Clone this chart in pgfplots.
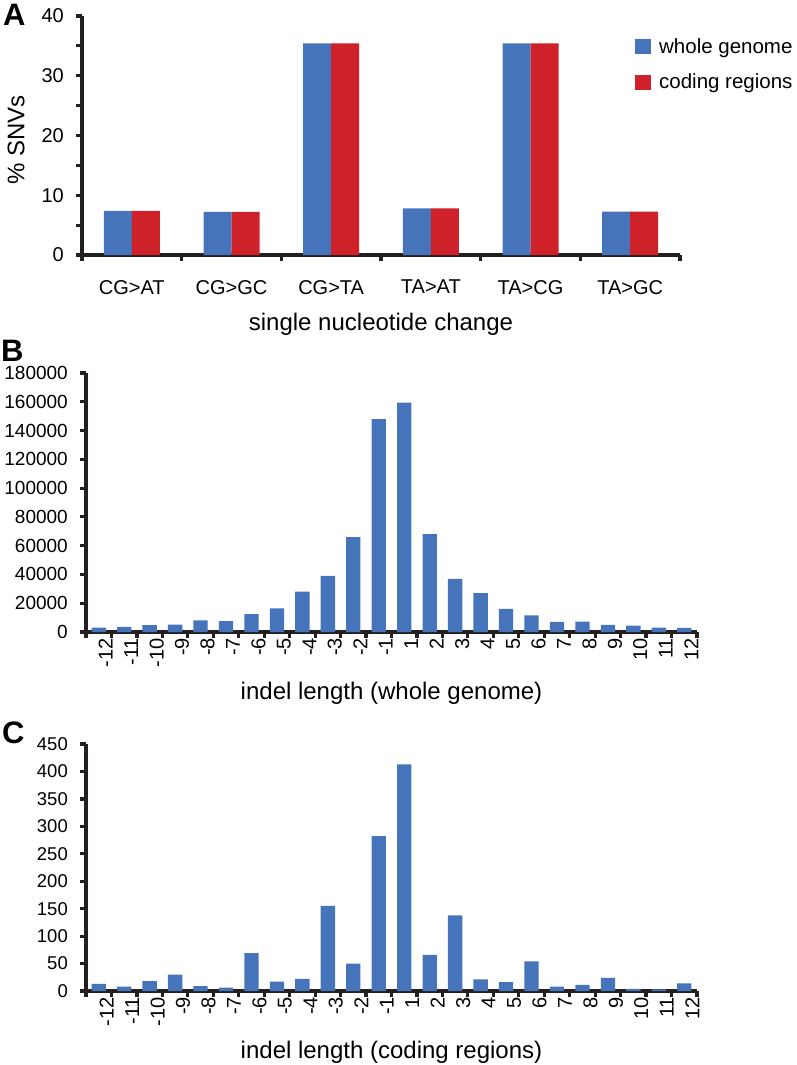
\documentclass[border=0pt]{standalone}
\usepackage{fontspec}
\setmainfont{Liberation Sans}
\usepackage{pgfplots}
\usepackage{pgfplotstable}
\pgfplotsset{compat=1.18}
\definecolor{barblue}{RGB}{70,116,186}
\definecolor{barred}{RGB}{206,33,42}
\definecolor{axisgray}{RGB}{35,31,32}
\newcommand{\fs}[1]{\fontsize{#1pt}{#1pt}\selectfont}

\pgfplotstableread{
x whole coding
0 7.4 7.4
1 7.2 7.2
2 35.4 35.4
3 7.8 7.8
4 35.4 35.4
5 7.25 7.25
}\tabA

\pgfplotstableread{
x y
1 3000
2 3500
3 4800
4 5200
5 8000
6 7600
7 12500
8 16500
9 28000
10 39000
11 66000
12 148000
13 159500
14 68000
15 37000
16 27000
17 16000
18 11500
19 7000
20 7300
21 5000
22 4500
23 3000
24 2800
}\tabB

\pgfplotstableread{
x y
1 13
2 8
3 18
4 30
5 9
6 6
7 69
8 17
9 22
10 155
11 50
12 282
13 413
14 66
15 138
16 21
17 16
18 54
19 8
20 11
21 24
22 4
23 3
24 14
}\tabC

\pgfplotsset{
  panel/.style={
    scale only axis,
    axis x line*=bottom, axis y line*=left,
    axis line style={axisgray, line width=3.8pt},
    every outer x axis line/.append style={axisgray, line width=3.8pt},
    every outer y axis line/.append style={axisgray, line width=3.8pt},
    tick align=outside,
    major tick length=6pt, minor tick length=6pt,
    tick style={axisgray, line width=3.2pt},
    major x tick style={draw=none},
    ymin=0,
    /pgf/number format/assume math mode=true,
    scaled y ticks=false,
    yticklabel style={/pgf/number format/fixed, /pgf/number format/1000 sep={}, anchor=east, inner sep=0pt, xshift=-12pt},
    clip=false,
  },
  indelpanel/.style={
    panel,
    width=611pt,
    xmin=0.5, xmax=24.5,
    xtick={1,...,24},
    xticklabels={-12,-11,-10,-9,-8,-7,-6,-5,-4,-3,-2,-1,1,2,3,4,5,6,7,8,9,10,11,12},
    minor xtick={0.5,1.5,...,24.5},
    xticklabel style={rotate=90, anchor=east, inner sep=0pt, font=\fs{20}},
    yticklabel style={font=\fs{19}},
    ybar, bar width=14.3pt,
  },
}

\begin{document}
\begin{tikzpicture}
\path[use as bounding box] (0,0) rectangle (797pt,-1065pt);

% Panel A
\begin{axis}[panel,
  at={(82pt,-255pt)}, anchor=south west,
  width=598pt, height=239pt,
  ymax=40,
  xmin=-0.5, xmax=5.5,
  xtick={0,...,5},
  xticklabels={CG>AT,CG>GC,CG>TA,TA>AT,TA>CG,TA>GC},
  minor xtick={-0.5,0.5,...,5.5},
  ytick={0,10,20,30,40},
  minor ytick={5,15,25,35},
  xticklabel style={anchor=north, inner sep=0pt, yshift=-19pt, font=\fs{20}},
  yticklabel style={font=\fs{20}},
  xlabel={single nucleotide change},
  ylabel={\% SNVs},
  xlabel style={at={(axis description cs:0.5,-0.3138)}, anchor=base, font=\fs{24}},
  ylabel style={at={(axis description cs:-0.110,0.481)}, anchor=center, font=\fs{24}},
  ybar=0pt, bar width=28pt,
  legend style={draw=none, fill=none, at={(axis description cs:0.9247,0.915)}, anchor=north west,
    font=\fs{20.5}, legend cell align=left, inner sep=0pt, row sep=15pt,
    /tikz/every odd column/.append style={column sep=6pt}},
  legend image code/.code={\fill[#1] (0pt,-7.5pt) rectangle (16pt,7.5pt);},
]
\addplot[fill=barblue, draw=none] table[x=x, y=whole] {\tabA};
\addplot[fill=barred, draw=none] table[x=x, y=coding] {\tabA};
\legend{whole genome, coding regions}
\end{axis}

% Panel B
\begin{axis}[indelpanel,
  at={(86pt,-632pt)}, anchor=south west,
  height=259pt,
  ymax=180000,
  ytick={0,20000,...,180000},
  xticklabel style={yshift=-7pt},
  xlabel={indel length (whole genome)},
  xlabel style={at={(axis description cs:0.5,-0.2587)}, anchor=base, font=\fs{24}},
]
\addplot[fill=barblue, draw=none] table[x=x, y=y] {\tabB};
\end{axis}

% Panel C
\begin{axis}[indelpanel,
  at={(86pt,-991pt)}, anchor=south west,
  height=247pt,
  ymax=450,
  ytick={0,50,...,450},
  xticklabel style={yshift=-8pt},
  yticklabel style={font=\fs{18.5}},
  xlabel={indel length (coding regions)},
  xlabel style={at={(axis description cs:0.5,-0.2713)}, anchor=base, font=\fs{24}},
]
\addplot[fill=barblue, draw=none] table[x=x, y=y] {\tabC};
\end{axis}

\node[anchor=base west, inner sep=0pt, font=\bfseries\fs{31}] at (3pt,-26pt) {A};
\node[anchor=base west, inner sep=0pt, font=\bfseries\fs{31}] at (1pt,-361pt) {B};
\node[anchor=base west, inner sep=0pt, font=\bfseries\fs{31}] at (2pt,-743pt) {C};
\end{tikzpicture}
\end{document}
